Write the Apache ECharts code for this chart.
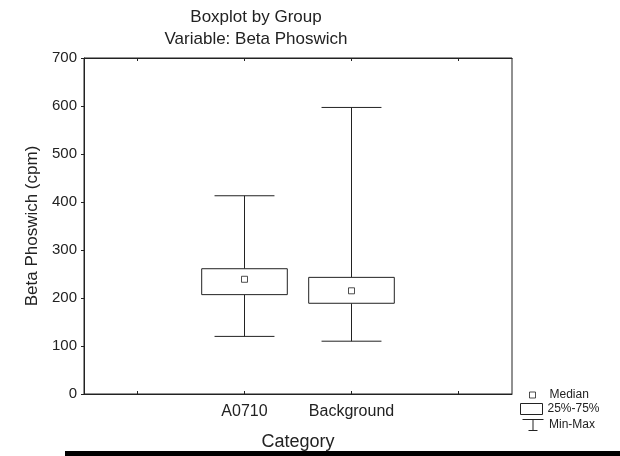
<!DOCTYPE html>
<html>
<head>
<meta charset="utf-8">
<script src="https://cdn.jsdelivr.net/npm/echarts@6/dist/echarts.min.js"></script>
<style>html,body{margin:0;padding:0;background:#fff;}#chart{width:620px;height:456px;}</style>
</head>
<body>
<div id="chart"></div>
<script>
// ---- data ----
const categories = ['', 'A0710', 'Background', ''];
const groups = ['A0710', 'Background'];
const minVals = [120, 110];
const q1Vals = [207, 189];
const medianVals = [239, 215];
const q3Vals = [261, 243];
const maxVals = [413, 597];
const yTicks = [0, 100, 200, 300, 400, 500, 600, 700];

const FONT = 'Liberation Sans, Arial, sans-serif';
const INK = '#222';

const whiskerData = groups.map((g, i) => [g, minVals[i], q1Vals[i], q3Vals[i], maxVals[i]]);
const boxData = groups.map((g, i) => [g, q1Vals[i], q3Vals[i]]);
const medianData = groups.map((g, i) => [g, medianVals[i]]);

const chart = echarts.init(document.getElementById('chart'), null, {renderer: 'canvas'});

function renderWhisker(params, api) {
  const c = api.value(0);
  const band = api.size([1, 0])[0];
  const capHalf = band * 0.28;
  const pMin = api.coord([c, api.value(1)]);
  const pQ1 = api.coord([c, api.value(2)]);
  const pQ3 = api.coord([c, api.value(3)]);
  const pMax = api.coord([c, api.value(4)]);
  const st = {stroke: INK, lineWidth: 1, fill: null};
  return {
    type: 'group',
    children: [
      {type: 'line', shape: {x1: pMin[0], y1: pMin[1], x2: pQ1[0], y2: pQ1[1]}, style: st},
      {type: 'line', shape: {x1: pQ3[0], y1: pQ3[1], x2: pMax[0], y2: pMax[1]}, style: st},
      {type: 'line', shape: {x1: pMin[0] - capHalf, y1: pMin[1], x2: pMin[0] + capHalf, y2: pMin[1]}, style: st},
      {type: 'line', shape: {x1: pMax[0] - capHalf, y1: pMax[1], x2: pMax[0] + capHalf, y2: pMax[1]}, style: st}
    ]
  };
}

function renderBox(params, api) {
  const c = api.value(0);
  const band = api.size([1, 0])[0];
  const half = band * 0.4;
  const pQ1 = api.coord([c, api.value(1)]);
  const pQ3 = api.coord([c, api.value(2)]);
  return {
    type: 'rect',
    shape: {x: pQ3[0] - half, y: pQ3[1], width: half * 2, height: pQ1[1] - pQ3[1]},
    style: {fill: '#fff', stroke: INK, lineWidth: 1}
  };
}

const legendText = {fontFamily: FONT, fontSize: 12, color: INK};

const option = {
  animation: false,
  backgroundColor: '#fff',
  title: {
    text: 'Boxplot by Group\nVariable: Beta Phoswich',
    left: 251,
    top: 1,
    textAlign: 'center',
    textStyle: {fontFamily: FONT, fontSize: 17, fontWeight: 'normal', color: INK, lineHeight: 22}
  },
  grid: {left: 84, right: 108, top: 58, bottom: 61, show: true, borderColor: INK, borderWidth: 1, backgroundColor: 'transparent'},
  legend: [
    {
      data: ['Median'], orient: 'vertical', left: 529, top: 389, padding: 0,
      itemWidth: 6, itemHeight: 6, icon: 'rect',
      itemStyle: {color: '#fff', borderColor: INK, borderWidth: 1},
      textStyle: Object.assign({padding: [0, 0, 0, 9]}, legendText),
      selectedMode: false
    },
    {
      data: ['25%-75%'], orient: 'vertical', left: 520, top: 403, padding: 0,
      itemWidth: 22, itemHeight: 11, icon: 'rect',
      itemStyle: {color: '#fff', borderColor: INK, borderWidth: 1},
      textStyle: legendText,
      selectedMode: false
    },
    {
      data: ['Min-Max'], orient: 'vertical', left: 520, top: 417, padding: 0,
      itemWidth: 22, itemHeight: 11,
      icon: 'path://M0,0L21,0M10.5,0L10.5,11M6,11L15,11',
      itemStyle: {color: 'none', borderColor: INK, borderWidth: 1},
      textStyle: legendText,
      selectedMode: false
    }
  ],
  xAxis: [
    {
      type: 'category', data: categories, boundaryGap: true,
      name: 'Category', nameLocation: 'middle', nameGap: 39,
      nameTextStyle: {fontFamily: FONT, fontSize: 18, color: INK},
      axisLine: {lineStyle: {color: INK, width: 1}},
      axisTick: {show: true, inside: true, alignWithLabel: true, length: 3, lineStyle: {color: INK}},
      axisLabel: {fontFamily: FONT, fontSize: 16, color: INK, margin: 10, interval: 0},
      splitLine: {show: false}
    },
    {
      type: 'category', data: categories, boundaryGap: true, position: 'top',
      axisLine: {lineStyle: {color: INK, width: 1}},
      axisTick: {show: true, inside: true, alignWithLabel: true, length: 3, lineStyle: {color: INK}},
      axisLabel: {show: false},
      splitLine: {show: false}
    }
  ],
  yAxis: {
    type: 'value', min: yTicks[0], max: yTicks[yTicks.length - 1], interval: 100,
    name: 'Beta Phoswich (cpm)', nameLocation: 'middle', nameGap: 34, nameRotate: 90,
    nameTextStyle: {fontFamily: FONT, fontSize: 17, color: INK},
    axisLine: {show: true, lineStyle: {color: INK, width: 1}},
    axisTick: {show: true, inside: false, length: 3, lineStyle: {color: INK}},
    axisLabel: {fontFamily: FONT, fontSize: 15, color: INK, margin: 7},
    splitLine: {show: false}
  },
  series: [
    {
      name: 'Min-Max', type: 'custom', renderItem: renderWhisker,
      encode: {x: 0, y: [1, 2, 3, 4]}, data: whiskerData,
      itemStyle: {color: 'none', borderColor: INK}, z: 2
    },
    {
      name: '25%-75%', type: 'custom', renderItem: renderBox,
      encode: {x: 0, y: [1, 2]}, data: boxData,
      itemStyle: {color: '#fff', borderColor: INK}, z: 3
    },
    {
      name: 'Median', type: 'scatter', data: medianData,
      symbol: 'rect', symbolSize: 6,
      itemStyle: {color: '#fff', borderColor: INK, borderWidth: 1}, z: 4
    }
  ],
  graphic: [
    {
      type: 'rect', left: 65, top: 451, silent: true,
      shape: {x: 0, y: 0, width: 620, height: 40},
      style: {fill: '#fff', stroke: '#000', lineWidth: 5}
    }
  ]
};
chart.setOption(option);
</script>
</body>
</html>
